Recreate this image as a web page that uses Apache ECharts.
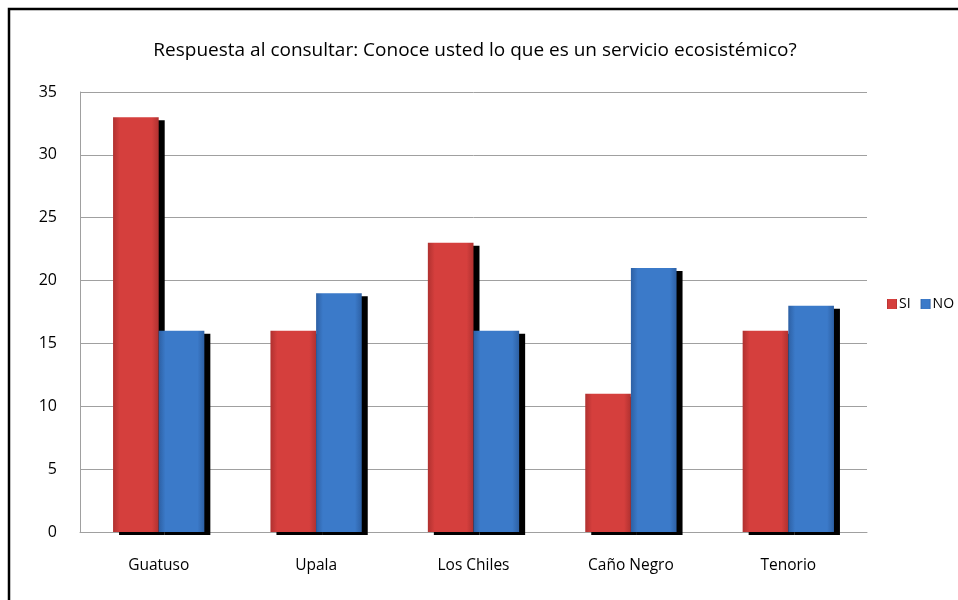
<!DOCTYPE html>
<html><head><meta charset="utf-8">
<script src="https://cdn.jsdelivr.net/npm/echarts@6/dist/echarts.min.js"></script>
<style>html,body{margin:0;padding:0;background:#fff}#c{width:958px;height:600px}</style>
</head><body><div id="c"></div>
<script>
const titleText = 'Respuesta al consultar: Conoce usted lo que es un servicio ecosistémico?';
const categories = ['Guatuso', 'Upala', 'Los Chiles', 'Caño Negro', 'Tenorio'];
const siValues = [33, 16, 23, 11, 16];
const noValues = [16, 19, 16, 21, 18];
const yTicks = [0, 5, 10, 15, 20, 25, 30, 35];

const font = '"Open Sans", "Liberation Sans", sans-serif';
function grad(edge, mid) {
  return new echarts.graphic.LinearGradient(0, 0, 1, 0, [
    {offset: 0, color: edge}, {offset: 0.15, color: mid}, {offset: 0.85, color: mid}, {offset: 1, color: edge}
  ]);
}
const chart = echarts.init(document.getElementById('c'));
chart.setOption({
  animation: false,
  backgroundColor: '#fff',
  title: {text: titleText, left: 470, top: 36, textAlign: 'center',
    textStyle: {fontFamily: font, fontSize: 19, fontWeight: 'normal', color: '#000'}},
  legend: {data: ['SI', 'NO'], orient: 'horizontal', left: 882, top: 292, width: 200, itemWidth: 10, itemHeight: 10, itemGap: 10,
    icon: 'rect', textStyle: {fontFamily: font, fontSize: 14, color: '#000', padding: [0,0,0,-3]}},
  grid: {left: 80, right: 91, top: 92, bottom: 68},
  xAxis: {type: 'category', data: categories,
    axisLine: {lineStyle: {color: '#a0a0a0', width: 1}}, axisTick: {show: false},
    axisLabel: {fontFamily: font, fontSize: 15.5, color: '#000', margin: 26}},
  yAxis: {type: 'value', min: 0, max: 35, interval: 5,
    axisLine: {show: true, lineStyle: {color: '#a0a0a0'}}, axisTick: {show: false},
    splitLine: {lineStyle: {color: '#a0a0a0'}},
    axisLabel: {fontFamily: font, fontSize: 16, color: '#000', margin: 23,
      formatter: v => yTicks.includes(v) ? String(v) : ''}},
  series: [
    {name: 'SI', type: 'bar', data: siValues, barGap: '0%', barCategoryGap: '42%',
      itemStyle: {color: grad('#b03130', '#d53f3d'), shadowColor: '#000', shadowOffsetX: 6, shadowOffsetY: 3, shadowBlur: 0}},
    {name: 'NO', type: 'bar', data: noValues,
      itemStyle: {color: grad('#2d60a4', '#3b7ac9'), shadowColor: '#000', shadowOffsetX: 6, shadowOffsetY: 3, shadowBlur: 0}}
  ],
  graphic: [{type: 'rect', shape: {x: 9, y: 9, width: 960, height: 600}, style: {fill: 'none', stroke: '#000', lineWidth: 2.5}, silent: true}]
});
</script></body></html>
